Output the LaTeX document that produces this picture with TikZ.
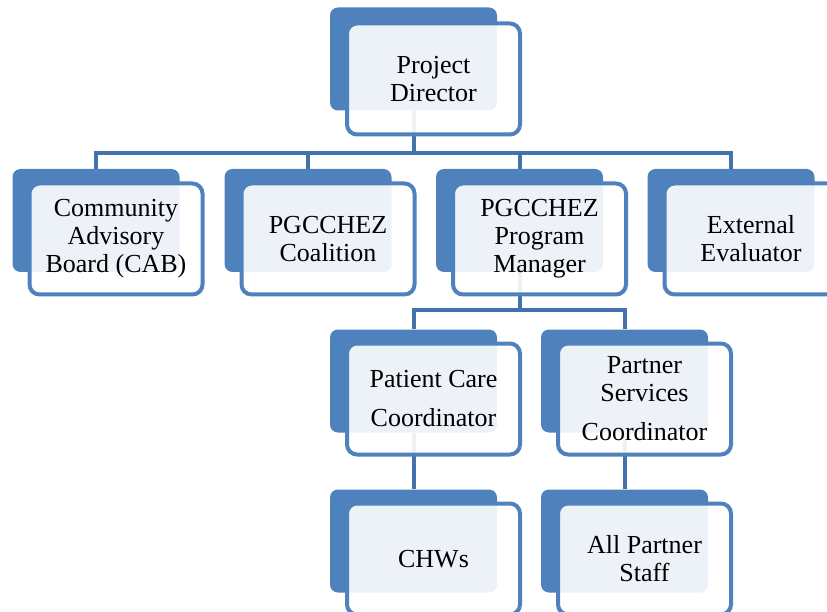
\documentclass[tikz,border=0pt]{standalone}
\usepackage{fontspec}
\setmainfont{Liberation Serif}

\definecolor{accent}{HTML}{4F81BD}
\definecolor{linkblue}{HTML}{4372AC}

\begin{document}
\begin{tikzpicture}[x=1pt, y=-1pt,
		backbox/.style={fill=accent, rounded corners=8pt, minimum width=167pt, minimum height=103pt, inner sep=0pt},
		frontbox/.style={draw=accent, line width=4pt, fill=white, fill opacity=0.9, text opacity=1, rounded corners=10pt,
			minimum width=173pt, minimum height=111pt, inner sep=0pt, align=center,
			font=\fontsize{26}{28}\selectfont},
		link/.style={draw=linkblue, line width=4pt}]
		\useasboundingbox (0,0) rectangle (827,612);
		\clip (0,0) rectangle (827,612);
		
		% dark cards at the back
		\node [backbox] (pd) at (413.5, 59) {};
		\node [backbox] (cab) at (96, 220.5) {};
		\node [backbox] (coal) at (308, 220.5) {};
		\node [backbox] (pm) at (519.5, 220.5) {};
		\node [backbox] (eval) at (731, 220.5) {};
		\node [backbox] (pcc) at (413.5, 381) {};
		\node [backbox] (psc) at (624.5, 381) {};
		\node [backbox] (chw) at (413.5, 541) {};
		\node [backbox] (staff) at (624.5, 541) {};
		
		% tree lines
		\foreach \n in {cab, coal, pm, eval}
			\draw [link] (pd.south) -- ++(0,42) -| (\n.north);
		\foreach \n in {pcc, psc}
			\draw [link] (pm.south) -- ++(0,38) -| (\n.north);
		\draw [link] (pcc.south) -- (chw.north);
		\draw [link] (psc.south) -- (staff.north);
		
		% light cards in front
		\node [frontbox] (pd-f) at (433.5, 79) {Project\\Director};
		\node [frontbox] (cab-f) at (116, 239) {Community\\Advisory\\Board (CAB)};
		\node [frontbox] (coal-f) at (328, 239) {PGCCHEZ\\Coalition};
		\node [frontbox] (pm-f) at (539.5, 239) {PGCCHEZ\\Program\\Manager};
		\node [frontbox] (eval-f) at (751, 239) {External\\Evaluator};
		\node [frontbox] (pcc-f) at (433.5, 399) {Patient Care\\[11pt]Coordinator};
		\node [frontbox] (psc-f) at (644.5, 399) {Partner\\Services\\[11pt]Coordinator};
		\node [frontbox] (chw-f) at (433.5, 559) {CHWs};
		\node [frontbox] (staff-f) at (644.5, 559) {All Partner\\Staff};
	\end{tikzpicture}
\end{document}
